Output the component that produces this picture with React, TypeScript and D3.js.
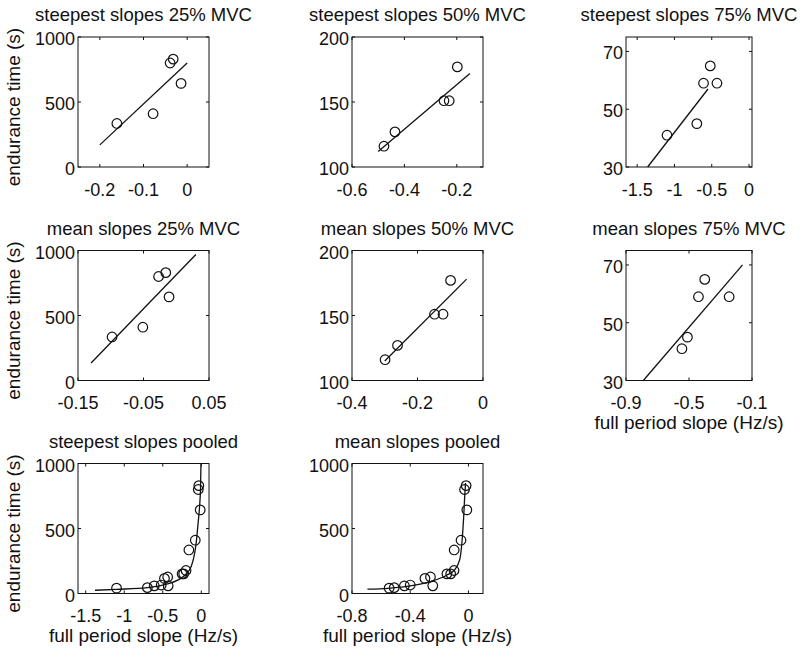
import React from "react";
import * as d3 from "d3";

// endurance time (s) per subject, by contraction level
const time25 = [335, 410, 800, 830, 643];
const time50 = [116, 127, 151, 151, 177];
const time75 = [41, 45, 59, 65, 59];

// steepest slopes (Hz/s)
const steep25 = [-0.161, -0.078, -0.039, -0.032, -0.014];
const steep50 = [-0.478, -0.436, -0.249, -0.229, -0.198];
const steep75 = [-1.1, -0.7, -0.61, -0.52, -0.43];

// mean slopes (Hz/s)
const mean25 = [-0.098, -0.051, -0.027, -0.016, -0.011];
const mean50 = [-0.299, -0.261, -0.148, -0.122, -0.099];
const mean75 = [-0.545, -0.51, -0.44, -0.4, -0.245];

// fitted lines as [slope, time]
const steep25Fit = [[-0.2, 170], [0, 800]];
const steep50Fit = [[-0.5, 112], [-0.15, 172]];
const steep75Fit = [[-1.36, 30], [-0.55, 57]];
const mean25Fit = [[-0.13, 135], [0.03, 969]];
const mean50Fit = [[-0.3, 115], [-0.05, 178]];
const mean75Fit = [[-0.79, 30], [-0.16, 70]];
const steepPooledFit = [
  [-1.38, 25], [-1.1, 32], [-0.7, 45], [-0.45, 72], [-0.3, 105], [-0.2, 148],
  [-0.13, 210], [-0.1, 270], [-0.07, 370], [-0.04, 550], [-0.02, 690],
  [-0.01, 810], [-0.004, 1000],
];
const meanPooledFit = [
  [-0.694, 33], [-0.553, 40], [-0.39, 60], [-0.26, 92], [-0.15, 140],
  [-0.095, 182], [-0.06, 260], [-0.044, 402], [-0.033, 584], [-0.026, 740],
  [-0.02, 850],
];

// tick values
const timeTicks = [0, 500, 1000];
const ticks50 = [100, 150, 200];
const ticks75 = [30, 50, 70];

const FONT = "'Liberation Sans', Arial, Helvetica, sans-serif";
const INK = "#111";

const colLeft = [78, 352, 626];
const colWidth = [131, 131, 126];
const rowTop = [37, 250.5, 463.5];
const boxH = 130;

type PanelProps = {
  title: string;
  col: number;
  row: number;
  xs: number[];
  ys: number[];
  fit: number[][];
  xDomain: [number, number];
  yDomain: [number, number];
  xTicks: number[];
  yTicks: number[];
  yLabel?: boolean;
  xLabel?: boolean;
  smooth?: boolean;
};

const Panel = (props: PanelProps) => {
  const { title, col, row, xs, ys, fit, xDomain, yDomain, xTicks, yTicks, yLabel, xLabel, smooth } = props;
  const left = colLeft[col];
  const w = colWidth[col];
  const top = rowTop[row];
  const x = d3.scaleLinear().domain(xDomain).range([0, w]);
  const y = d3.scaleLinear().domain(yDomain).range([boxH, 0]);
  const line = d3
    .line<number[]>()
    .x((d) => x(d[0]))
    .y((d) => y(d[1]))
    .curve(smooth ? d3.curveMonotoneX : d3.curveLinear);
  const tl = 3;

  return (
    <g transform={`translate(${left},${top})`}>
      <text x={w / 2} y={-16} textAnchor="middle" fontSize={18.5} fill={INK}>
        {title}
      </text>
      <rect x={0} y={0} width={w} height={boxH} fill="none" stroke={INK} strokeWidth={1} />
      {xTicks.map((t, i) => (
        <g key={`xt${i}`}>
          <line x1={x(t)} x2={x(t)} y1={boxH} y2={boxH - tl} stroke={INK} />
          <line x1={x(t)} x2={x(t)} y1={0} y2={tl} stroke={INK} />
          <text x={x(t)} y={boxH + 28.5} textAnchor="middle" fontSize={18} fill={INK}>
            {String(t)}
          </text>
        </g>
      ))}
      {yTicks.map((t, i) => (
        <g key={`yt${i}`}>
          <line x1={0} x2={tl} y1={y(t)} y2={y(t)} stroke={INK} />
          <line x1={w} x2={w - tl} y1={y(t)} y2={y(t)} stroke={INK} />
          <text x={-3} y={y(t) + 8} textAnchor="end" fontSize={18} fill={INK}>
            {String(t)}
          </text>
        </g>
      ))}
      <path d={line(fit) || ""} fill="none" stroke={INK} strokeWidth={1.3} />
      {xs.map((v, i) => (
        <circle key={i} cx={x(v)} cy={y(ys[i])} r={4.8} fill="none" stroke={INK} strokeWidth={1.2} />
      ))}
      {yLabel && (
        <text
          transform={`translate(${20 - left},${boxH / 2 + 5}) rotate(-90)`}
          textAnchor="middle"
          fontSize={19}
          fill={INK}
        >
          endurance time (s)
        </text>
      )}
      {xLabel && (
        <text x={w / 2} y={boxH + 48} textAnchor="middle" fontSize={19} fill={INK}>
          full period slope (Hz/s)
        </text>
      )}
    </g>
  );
};

const App = () => {
  const pooledTime = time25.concat(time50, time75);
  return (
    <svg
      width={802}
      height={649}
      style={{ position: "absolute", left: 0, top: 0, background: "#fff" }}
      fontFamily={FONT}
    >
      <rect width={802} height={649} fill="#fff" />
      <Panel title="steepest slopes 25% MVC" col={0} row={0} xs={steep25} ys={time25} fit={steep25Fit}
        xDomain={[-0.25, 0.05]} yDomain={[0, 1000]} xTicks={[-0.2, -0.1, 0]} yTicks={timeTicks} yLabel />
      <Panel title="steepest slopes 50% MVC" col={1} row={0} xs={steep50} ys={time50} fit={steep50Fit}
        xDomain={[-0.6, -0.1]} yDomain={[100, 200]} xTicks={[-0.6, -0.4, -0.2]} yTicks={ticks50} />
      <Panel title="steepest slopes 75% MVC" col={2} row={0} xs={steep75} ys={time75} fit={steep75Fit}
        xDomain={[-1.65, 0.04]} yDomain={[30, 75]} xTicks={[-1.5, -1, -0.5, 0]} yTicks={ticks75} />
      <Panel title="mean slopes 25% MVC" col={0} row={1} xs={mean25} ys={time25} fit={mean25Fit}
        xDomain={[-0.15, 0.05]} yDomain={[0, 1000]} xTicks={[-0.15, -0.05, 0.05]} yTicks={timeTicks} yLabel />
      <Panel title="mean slopes 50% MVC" col={1} row={1} xs={mean50} ys={time50} fit={mean50Fit}
        xDomain={[-0.4, 0]} yDomain={[100, 200]} xTicks={[-0.4, -0.2, 0]} yTicks={ticks50} />
      <Panel title="mean slopes 75% MVC" col={2} row={1} xs={mean75} ys={time75} fit={mean75Fit}
        xDomain={[-0.9, -0.1]} yDomain={[30, 75]} xTicks={[-0.9, -0.5, -0.1]} yTicks={ticks75} xLabel />
      <Panel title="steepest slopes pooled" col={0} row={2} xs={steep25.concat(steep50, steep75)} ys={pooledTime}
        fit={steepPooledFit} smooth xDomain={[-1.6, 0.1]} yDomain={[0, 1000]} xTicks={[-1.5, -1, -0.5, 0]}
        yTicks={timeTicks} yLabel xLabel />
      <Panel title="mean slopes pooled" col={1} row={2} xs={mean25.concat(mean50, mean75)} ys={pooledTime}
        fit={meanPooledFit} smooth xDomain={[-0.8, 0.1]} yDomain={[0, 1000]} xTicks={[-0.8, -0.4, 0]}
        yTicks={timeTicks} xLabel />
    </svg>
  );
};

export default App;
